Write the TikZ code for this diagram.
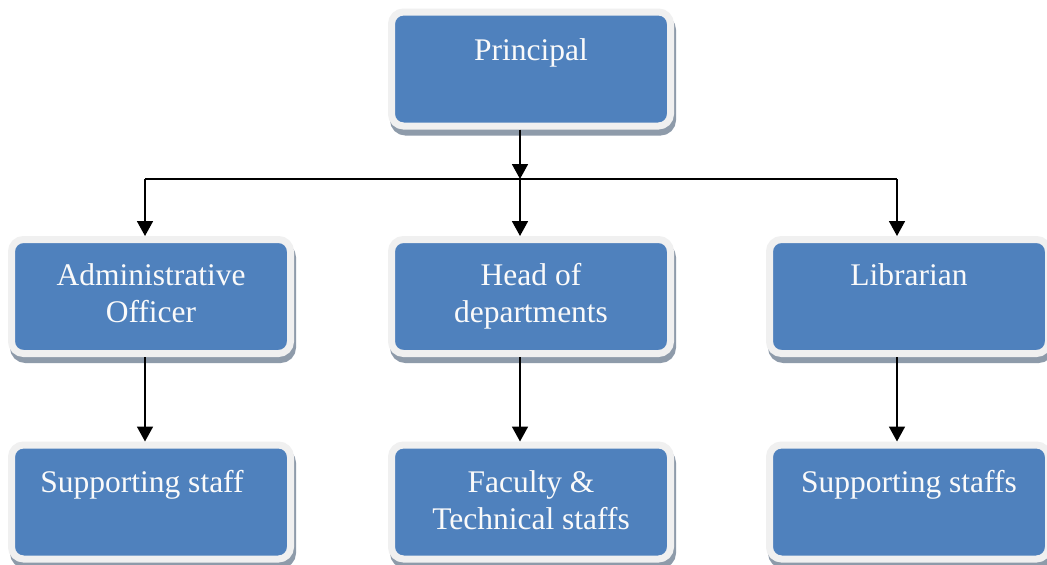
\documentclass[tikz,border=0pt]{standalone}
\usepackage{fontspec}
\setmainfont{Liberation Serif}
\usetikzlibrary{arrows.meta,shadows}
\definecolor{boxblue}{RGB}{79,129,189}
\definecolor{boxrim}{RGB}{240,240,240}
\definecolor{boxshadow}{RGB}{142,155,170}
\definecolor{txtc}{RGB}{250,250,250}
\begin{document}
\begin{tikzpicture}[x=1pt,y=-1pt,
  orgbox/.style={draw=boxrim, fill=boxblue, line width=7pt, rounded corners=12pt,
    minimum width=279pt, minimum height=114pt, inner sep=0pt,
    general shadow={shadow xshift=2pt, shadow yshift=-6pt, fill=boxshadow, draw=boxshadow, line width=7pt}},
  boxtext/.style={anchor=base, text=txtc, align=center, inner sep=0pt,
    font=\fontsize{31.5}{37}\selectfont},
  arr/.style={draw=black, line width=1.8pt, -{Triangle[width=16pt,length=15pt]}},
  hline/.style={draw=black, line width=1.5pt}]
\useasboundingbox (0,0) rectangle (1047,565);
\fill[white] (0,0) rectangle (1047,565);

% boxes
\node[orgbox] (P)  at (531,69) {};
\node[orgbox] (A)  at (151,296.5) {};
\node[orgbox] (H)  at (531,296.5) {};
\node[orgbox] (L)  at (909,296.5) {};
\node[orgbox] (S1) at (151,502) {};
\node[orgbox] (F)  at (531,502) {};
\node[orgbox] (S2) at (909,502) {};

% texts (base anchor = baseline of the last line)
\node[boxtext] (tP)  at (531,60) {Principal};
\node[boxtext] (tA)  at (151,322) {Administrative\\Officer};
\node[boxtext] (tH)  at (531,322) {Head of\\departments};
\node[boxtext] (tL)  at (909,285) {Librarian};
\node[boxtext] (tS1) at (142,492) {Supporting staff};
\node[boxtext] (tF)  at (531,529) {Faculty \&\\Technical staffs};
\node[boxtext] (tS2) at (909,492) {Supporting staffs};

% connectors
\coordinate (jm) at (520,179);
\coordinate (jl) at (145,179);
\coordinate (jr) at (897,179);
\draw[arr] (jm |- P.south) -- (jm);
\draw[hline] (jl) -- (jr);
\draw[arr] (jl) -- (jl |- A.north);
\draw[arr] (jm) -- (jm |- H.north);
\draw[arr] (jr) -- (jr |- L.north);
\draw[arr] (jl |- A.south) -- (jl |- S1.north);
\draw[arr] (jm |- H.south) -- (jm |- F.north);
\draw[arr] (jr |- L.south) -- (jr |- S2.north);
\end{tikzpicture}
\end{document}
